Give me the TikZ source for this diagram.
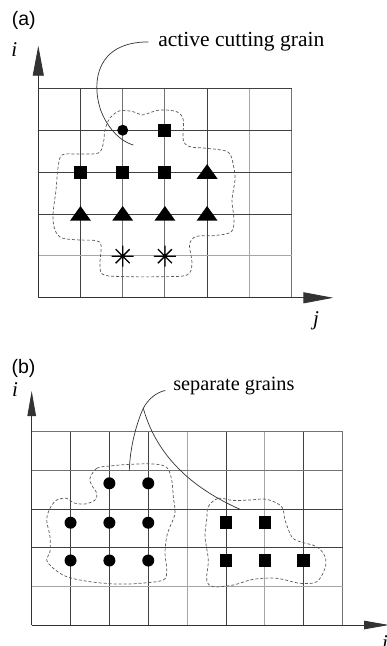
\documentclass[tikz,border=0pt]{standalone}
\usepackage{fontspec}
\setmainfont{Liberation Serif}
\newfontfamily\labsans{Liberation Sans}
\usetikzlibrary{arrows.meta}
\begin{document}
\begin{tikzpicture}[x=1pt,y=-1pt,
  gl/.style={line width=0.9pt,black!75},
  gm/.style={line width=0.9pt,black!55},
  gs/.style={line width=0.9pt,black!35},
  axisA/.style={line width=0.9pt,black!80,-{Triangle[length=30pt,width=11pt]}},
  axisB/.style={line width=0.9pt,black!80,-{Triangle[length=25pt,width=8.5pt]}},
  blob/.style={dash pattern=on 3pt off 2pt,line width=0.7pt,black!65},
  lead/.style={line width=0.7pt,black!80},
  cdot/.style={circle,fill,inner sep=0pt,minimum size=#1},
  csq/.style={rectangle,fill,inner sep=0pt,minimum size=#1},
  lbl/.style={inner sep=0pt,outer sep=0pt},
  ser/.style={font=\fontsize{#1}{#1}\selectfont},
  iser/.style={font=\itshape\fontsize{#1}{#1}\selectfont},
  sans/.style={font=\labsans\fontsize{#1}{#1}\selectfont},
  tri/.pic={\fill (-10.5,6.7) -- (10.5,6.7) -- (0,-8) -- cycle;},
  aster/.pic={\draw[line width=1.3pt] (-11,0)--(11,0) (0,-10.5)--(0,10.5) (-7,-7)--(7,7) (-7,7)--(7,-7);}
]
\useasboundingbox (0,0) rectangle (387,646);

% ---------------- panel (a) ----------------
\foreach \x/\s in {80.5/gl,122.7/gm,164.9/gm,207.1/gl,249.3/gs,291.5/gm}
  \draw[\s] (\x,88.3) -- (\x,297.8);
\foreach \y/\s in {88.3/gl,130.2/gl,172.1/gl,214/gl,255.9/gs}
  \draw[\s] (38.3,\y) -- (291.5,\y);
\coordinate (oA) at (38.3,297.8);
\coordinate (iA) at (38.3,45.7);
\coordinate (jA) at (333.3,297.8);
\draw[axisA] (oA) -- (iA);
\draw[axisA] (oA) -- (jA);

\draw[blob] plot[smooth cycle,tension=0.55] coordinates {
 (105,130) (110,118) (120,110.7) (133.3,111.7) (141.7,115) (148.3,113.3) (160,110)
 (176.7,111.7) (183.3,120) (183.3,140) (190,146.7) (206.7,148.3) (228,152) (233.3,165)
 (235,180) (232,200) (234,220) (231,232) (215,235.5) (196,236.5) (189.5,245) (192,263)
 (187,275) (160,276.7) (130,276.7) (104,275) (100,265) (101,245) (95,240.5) (80,240)
 (62,238) (55,230) (53,215) (56,190) (58,168) (62,155) (78.3,154) (98.3,153) (103.3,143.3)};

\node[cdot=11] (ac1) at (122.7,130.2) {};
\node[csq=13] (as1) at (164.9,130.2) {};
\node[csq=13] (as2) at (80.5,172.1) {};
\node[csq=13] (as3) at (122.7,172.1) {};
\node[csq=13] (as4) at (164.9,172.1) {};
\pic (at1) at (207.1,172.1) {tri};
\pic (at2) at (80.5,214) {tri};
\pic (at3) at (122.7,214) {tri};
\pic (at4) at (164.9,214) {tri};
\pic (at5) at (207.1,214) {tri};
\pic (ax1) at (122.7,256.2) {aster};
\pic (ax2) at (164.9,256.2) {aster};

\node[lbl,sans=19.5,anchor=base] (la) at (23.8,25.9) {(a)};
\node[lbl,iser=21,anchor=base] (ia) at (14.2,56.7) {i};
\node[lbl,iser=21,anchor=base] (ja) at (316,325.4) {j};
\node[inner sep=0pt,outer ysep=0pt,outer xsep=10pt,ser=21.5,anchor=base west] (act) at (148.3,46.7) {active cutting grain};
\coordinate (ga) at (133.3,145);
\draw[lead] (act.west) .. controls (96,42) and (92,82) .. (100,108)
  .. controls (104,121) and (116,140) .. (ga);

% ---------------- panel (b) ----------------
\foreach \x/\s in {70.55/gl,109.4/gl,148.25/gl,187.1/gs,225.95/gl,264.8/gs,303.65/gl,342.5/gm}
  \draw[\s] (\x,431.7) -- (\x,625);
\foreach \y/\s in {431.7/gm,470.4/gm,509/gl,547.7/gl,586.3/gs}
  \draw[\s] (31.7,\y) -- (342.5,\y);
\coordinate (oB) at (31.7,625);
\coordinate (iB) at (31.7,391);
\coordinate (jB) at (389,625);
\draw[axisB] (oB) -- (iB);
\draw[axisB] (oB) -- (jB);

\draw[blob] plot[smooth cycle,tension=0.55] coordinates {
 (90,478.3) (96.7,468.3) (110,466) (130,464.3) (153.3,464) (166.7,467.3) (171.7,480)
 (173.3,496.7) (175,513.3) (170,526.7) (166.7,536.7) (165,553.3) (166.7,570) (163.3,580)
 (140,583.3) (116.7,584) (90,581.7) (66.7,576.7) (53.3,568.3) (46.7,560) (50,551.7)
 (50,536.7) (46.7,520) (50,508.3) (56.7,500) (66.7,498.3) (73.3,502.7) (85,504) (95,500)
 (96.7,493.3) (91.7,485)};
\draw[blob] plot[smooth cycle,tension=0.55] coordinates {
 (208.3,506.7) (218.3,498.3) (233,500.5) (250,500) (266.7,499.3) (281.7,506.7) (285,520)
 (291.7,536.7) (300,541.7) (316.7,546.7) (325,556.7) (325,568.3) (316.7,581.7) (300,583.3)
 (276.7,578.3) (253.3,579.3) (233.3,585) (213.3,586.7) (206.7,580) (208.3,560) (205,536.7)
 (206.7,520)};

\foreach \n/\x/\y in {1/109.4/483.3,2/148.25/483.3,3/70.55/522.7,4/109.4/522.7,5/148.25/522.7,
                      6/70.55/560.5,7/109.4/560.5,8/148.25/560.5}
  \node[cdot=12] (bc\n) at (\x,\y) {};
\foreach \n/\x/\y in {1/225.95/522.7,2/264.8/522.7,3/225.95/560.5,4/264.8/560.5,5/303.65/560.5}
  \node[csq=12.5] (bs\n) at (\x,\y) {};

\node[lbl,sans=19.5,anchor=base] (lb) at (23.5,373) {(b)};
\node[lbl,iser=21,anchor=base] (ib) at (15,396) {i};
\node[lbl,iser=21,anchor=base west] (jb) at (382,649) {i};
\node[inner sep=0pt,outer ysep=0pt,outer xsep=8pt,ser=20.3,anchor=base west] (sg) at (165.3,390.5) {separate grains};
\coordinate (pk) at (143.3,408.3);
\coordinate (g1) at (129.3,470.7);
\coordinate (g2) at (240,509.3);
\draw[lead] (sg.base west) .. controls (157,392) and (148,399) .. (pk)
  .. controls (137,422) and (130,446) .. (g1);
\draw[lead] (pk) .. controls (155,450) and (185,485) .. (g2);
\end{tikzpicture}
\end{document}
